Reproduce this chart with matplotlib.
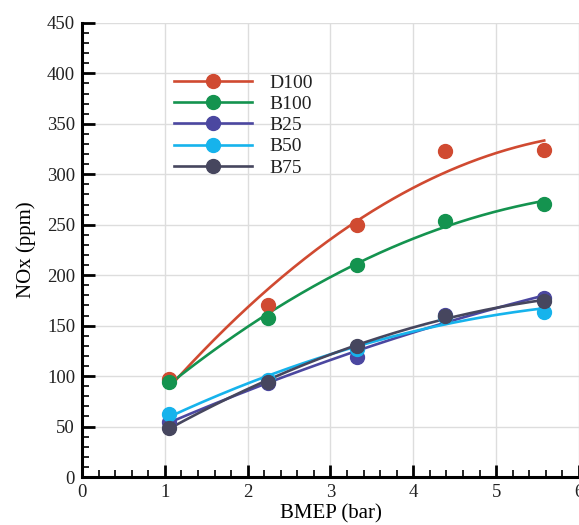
import numpy as np
import matplotlib
matplotlib.use("Agg")
import matplotlib.pyplot as plt
from matplotlib.ticker import MultipleLocator
from matplotlib.lines import Line2D

plt.rcParams['font.family'] = ['Liberation Serif', 'DejaVu Serif']
plt.rcParams['text.color'] = '#222222'
plt.rcParams['xtick.labelcolor'] = '#222222'
plt.rcParams['ytick.labelcolor'] = '#222222'

# data
bmep = [1.05, 2.25, 3.32, 4.38, 5.58]
series_names = ['D100', 'B100', 'B25', 'B50', 'B75']
d100 = [97, 170, 250, 323, 324]
b100 = [94, 158, 210, 254, 271]
b25 = [55, 93, 119, 161, 177]
b50 = [62, 96, 127, 159, 164]
b75 = [49, 94, 130, 160, 174]
colors = ['#d04a31', '#14934f', '#4b47a0', '#16b3ec', '#46465e']

fig = plt.figure(figsize=(5.79, 5.25), dpi=100)
ax = fig.add_axes([0.1416, 0.0914, 0.8584, 0.865])

handles = []
xs = np.linspace(bmep[0], bmep[-1], 200)
for name, ys, c in zip(series_names, [d100, b100, b25, b50, b75], colors):
    # quadratic trend line through the measured points
    coef = np.polyfit(bmep, ys, 2)
    ax.plot(xs, np.polyval(coef, xs), color=c, lw=1.9, zorder=3)
    ax.plot(bmep, ys, 'o', color=c, ms=10, zorder=4, clip_on=False)
    handles.append(Line2D([], [], color=c, lw=1.9, marker='o', ms=10))

ax.set_xlim(0, 6)
ax.set_ylim(0, 450)
ax.xaxis.set_major_locator(MultipleLocator(1))
ax.xaxis.set_minor_locator(MultipleLocator(0.2))
ax.yaxis.set_major_locator(MultipleLocator(50))
ax.yaxis.set_minor_locator(MultipleLocator(10))
ax.tick_params(which='major', direction='in', length=9, width=2, labelsize=13.5, pad=5)
ax.tick_params(which='minor', direction='in', length=5, width=1.2)
ax.grid(True, which='major', color='#dddddd', lw=1)
ax.set_axisbelow(True)

for s in ['top', 'right']:
    ax.spines[s].set_visible(False)
for s in ['left', 'bottom']:
    ax.spines[s].set_linewidth(2.2)

ax.set_xlabel('BMEP (bar)', fontsize=15, labelpad=2)
ax.set_ylabel('NOx (ppm)', fontsize=15, labelpad=8)

ax.legend(handles, series_names, loc='upper left', bbox_to_anchor=(0.15, 0.925),
          frameon=False, fontsize=14, handlelength=4.0, labelspacing=0.18,
          handletextpad=0.9)

fig.savefig('out.png', dpi=100)
